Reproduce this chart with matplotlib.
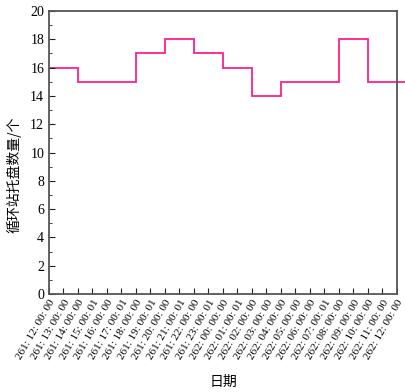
import matplotlib
matplotlib.use("Agg")
import matplotlib.pyplot as plt
from matplotlib.ticker import MultipleLocator
from matplotlib.transforms import ScaledTranslation
import numpy as np

# data
days = [261]*12 + [262]*13
hours = list(range(12, 24)) + list(range(0, 13))
seconds = [0,0,0,1,0,1,0,1,0,1,0,1,0,1,0,0,0,0,0,1,0,0,0,0,0]
tick_labels = [f"{d}: {h:02d}: 00: {s:02d}" for d, h, s in zip(days, hours, seconds)]
edges = list(range(0, 27, 2))  # hour offsets of step edges
counts = [16, 15, 15, 17, 18, 17, 16, 14, 15, 15, 18, 15, 15]

plt.rcParams['font.family'] = ['Liberation Serif', 'Noto Sans CJK SC']

fig = plt.figure(figsize=(4.06, 3.92), dpi=100)
ax = fig.add_axes([49/406, 1-294/392, (397-49)/406, (294-11)/392])

ax.stairs(counts, edges, color='#ff1f8e', linewidth=1.3, clip_on=False, baseline=None)

ax.set_xlim(0, 24)
ax.set_ylim(0, 20)
ax.set_xticks(range(25))
ax.set_xticklabels(tick_labels, rotation=60, ha='right', va='top', rotation_mode='anchor', fontsize=8)
off = ScaledTranslation(6/100, 0, fig.dpi_scale_trans)
for lab in ax.get_xticklabels():
    lab.set_transform(lab.get_transform() + off)
ax.yaxis.set_major_locator(MultipleLocator(2))
ax.yaxis.set_minor_locator(MultipleLocator(1))
ax.tick_params(axis='both', which='both', direction='in', top=False, right=False, colors='#222222', labelcolor='black')
ax.tick_params(axis='y', labelsize=10, length=4)
ax.tick_params(axis='y', which='minor', length=2)
ax.tick_params(axis='x', length=4, pad=3)
for sp in ax.spines.values():
    sp.set_color('#555555')
    sp.set_linewidth(1.3)

ax.set_ylabel('循环站托盘数量/个', family=['Noto Sans CJK SC'], fontsize=10)
ax.yaxis.set_label_coords(-0.08, 0.42)
ax.set_xlabel('日期', family=['Noto Sans CJK SC'], fontsize=10)
ax.xaxis.set_label_coords(0.5, -0.285)

fig.savefig('out.png', dpi=100)
